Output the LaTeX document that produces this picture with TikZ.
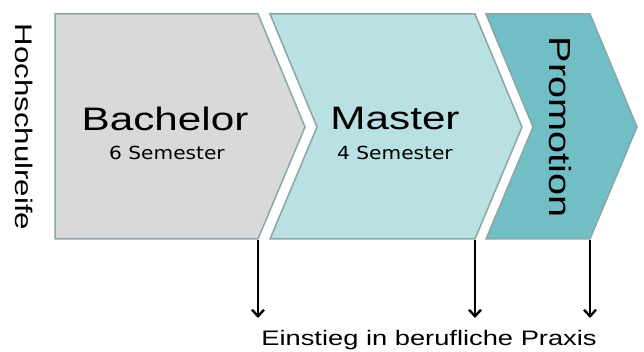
\documentclass[tikz,border=0pt]{standalone}
\usepackage{fontspec}
\usetikzlibrary{arrows.meta}
\setmainfont{Liberation Sans}
\newfontfamily\widesans[FakeStretch=1.3]{Liberation Sans}
\newfontfamily\widesmall[FakeStretch=1.12]{DejaVu Sans}
\definecolor{bachfill}{HTML}{D9D9D9}
\definecolor{mastfill}{HTML}{B9E0E3}
\definecolor{promfill}{HTML}{72BEC5}
\definecolor{chevline}{HTML}{8AA6A8}
\tikzset{
  chevron/.style={draw=chevline, line width=1.5pt, line join=miter},
  bigtext/.style={inner sep=0pt, anchor=base, font=\widesans\fontsize{32.5}{36}\selectfont},
  smalltext/.style={inner sep=0pt, anchor=base, font=\widesmall\fontsize{18}{21}\selectfont},
  sidetext/.style={inner sep=0pt, anchor=base, rotate=-90},
  exitarrow/.style={-{Straight Barb[length=6.5pt,width=12pt,line width=2.4pt]}, line width=2.1pt, black},
}
\begin{document}
\begin{tikzpicture}[x=1pt,y=-1pt]
\useasboundingbox (0,0) rectangle (644,352);
% the three stages as chevrons
\draw[chevron, fill=bachfill] (55,14) -- (258,14) -- (305,127) -- (258,239) -- (55,239) -- cycle;
\draw[chevron, fill=mastfill] (270,14) -- (475,14) -- (522,127) -- (475,239) -- (270,239) -- (317,127) -- cycle;
\draw[chevron, fill=promfill] (486,14) -- (590,14) -- (637,127) -- (590,239) -- (486,239) -- (533,127) -- cycle;
% stage labels
\node[bigtext] (bach) at (165,131) {Bachelor};
\node[smalltext] (bachsem) at (167,160) {6 Semester};
\node[bigtext] (mast) at (395,130) {Master};
\node[smalltext] (mastsem) at (395,160) {4 Semester};
\node[sidetext, font=\widesans\fontsize{30.5}{34}\selectfont] (prom) at (549,127) {Promotion};
\node[sidetext, font=\widesans\fontsize{24}{28}\selectfont] (hsr) at (15,127) {Hochschulreife};
% exits into professional practice
\coordinate (bexit) at (258,240);
\coordinate (mexit) at (475,240);
\coordinate (pexit) at (590,240);
\coordinate (bend) at (258,318);
\coordinate (mend) at (475,318);
\coordinate (pend) at (590,318);
\draw[exitarrow] (bexit) -- (bend);
\draw[exitarrow] (mexit) -- (mend);
\draw[exitarrow] (pexit) -- (pend);
\node[inner sep=0pt, anchor=base, font=\widesans\fontsize{21}{24}\selectfont] (praxis) at (429,345) {Einstieg in berufliche Praxis};
\end{tikzpicture}
\end{document}
